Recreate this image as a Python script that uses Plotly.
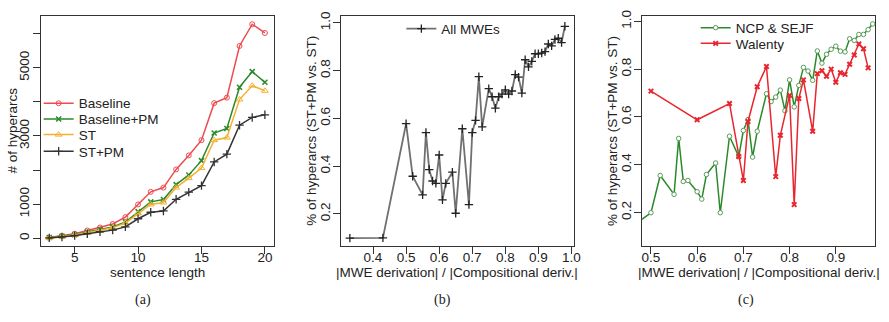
import plotly.graph_objects as go

# ---------------- Panel (a) data ----------------
sent_len = list(range(3, 21))
baseline = [20, 67, 133, 228, 314, 419, 619, 990, 1361, 1485, 2018, 2428, 2875, 3960, 4122, 5636, 6274, 6017]
baseline_pm = [20, 57, 105, 181, 257, 333, 476, 781, 1066, 1133, 1571, 1856, 2275, 3084, 3218, 4427, 4884, 4570]
st = [10, 48, 95, 162, 228, 305, 447, 724, 990, 1047, 1485, 1761, 2056, 2875, 2951, 4065, 4474, 4322]
st_pm = [10, 38, 76, 133, 190, 238, 333, 571, 762, 800, 1142, 1352, 1542, 2237, 2466, 3313, 3541, 3618]
a_yticks = [0, 1000, 2000, 3000, 4000, 5000, 6000]
a_yticklabels = ["0", "1000", "", "3000", "", "5000", ""]
a_xticks = [5, 10, 15, 20]

# ---------------- Panel (b) data ----------------
b_x = [0.33, 0.43, 0.50, 0.52, 0.55, 0.56, 0.57, 0.58, 0.59, 0.60, 0.61, 0.62, 0.64, 0.65,
       0.67, 0.69, 0.70, 0.71, 0.72, 0.73, 0.75, 0.76, 0.77, 0.78, 0.79, 0.80, 0.81, 0.82,
       0.83, 0.84, 0.85, 0.86, 0.87, 0.88, 0.89, 0.90, 0.91, 0.92, 0.93, 0.94, 0.95, 0.96,
       0.97, 0.98]
b_y = [0.099, 0.100, 0.578, 0.358, 0.280, 0.541, 0.386, 0.338, 0.328, 0.447, 0.259, 0.328, 0.375, 0.203,
       0.557, 0.239, 0.541, 0.592, 0.775, 0.565, 0.725, 0.691, 0.643, 0.691, 0.702, 0.720, 0.702, 0.715,
       0.784, 0.773, 0.706, 0.846, 0.816, 0.839, 0.871, 0.871, 0.874, 0.880, 0.912, 0.904, 0.931, 0.936,
       0.918, 0.986]
bc_yticks = [0.2, 0.4, 0.6, 0.8, 1.0]
b_xticks = [0.4, 0.5, 0.6, 0.7, 0.8, 0.9, 1.0]

# ---------------- Panel (c) data ----------------
ncp_x = [0.33, 0.43, 0.50, 0.52, 0.55, 0.56, 0.57, 0.58, 0.60, 0.61, 0.62, 0.64, 0.65, 0.67, 0.69,
         0.70, 0.71, 0.72, 0.73, 0.75, 0.76, 0.77, 0.78, 0.79, 0.80, 0.81, 0.82, 0.83, 0.84, 0.85,
         0.86, 0.87, 0.88, 0.89, 0.90, 0.91, 0.92, 0.93, 0.94, 0.95, 0.96, 0.97, 0.98]
ncp_y = [0.100, 0.100, 0.199, 0.355, 0.276, 0.510, 0.330, 0.334, 0.287, 0.256, 0.359, 0.407, 0.199, 0.519, 0.434,
         0.543, 0.589, 0.432, 0.540, 0.697, 0.664, 0.683, 0.712, 0.626, 0.755, 0.642, 0.732, 0.807, 0.792, 0.753,
         0.876, 0.825, 0.862, 0.883, 0.896, 0.875, 0.872, 0.927, 0.920, 0.945, 0.945, 0.965, 0.989]
wal_x = [0.50, 0.60, 0.67, 0.69, 0.70, 0.71, 0.73, 0.75, 0.77, 0.78, 0.80, 0.81, 0.82, 0.83, 0.85,
         0.86, 0.87, 0.88, 0.89, 0.90, 0.91, 0.92, 0.93, 0.94, 0.95, 0.96, 0.97]
wal_y = [0.708, 0.588, 0.656, 0.434, 0.334, 0.581, 0.726, 0.811, 0.350, 0.523, 0.690, 0.233, 0.677, 0.755, 0.540,
         0.781, 0.793, 0.770, 0.800, 0.745, 0.785, 0.778, 0.820, 0.859, 0.905, 0.885, 0.805]
c_xticks = [0.5, 0.6, 0.7, 0.8, 0.9]

captions = ["(a)", "(b)", "(c)"]
a_xtitle = "sentence length"
a_ytitle = "# of hyperarcs"
bc_xtitle = "|MWE derivation| / |Compositional deriv.|"
bc_ytitle = "% of hyperarcs (ST+PM vs. ST)"

RED = "#ee4b50"
GREEN = "#2a8a2a"
ORANGE = "#f5b030"
DARK = "#333333"
FONT = "Liberation Sans"
FS = 13.5
TXT = "#222222"

fig = go.Figure()

# Panel a
fig.add_trace(go.Scatter(x=sent_len, y=baseline, name="Baseline", mode="lines+markers", showlegend=True,
                         line=dict(color=RED, width=1.5),
                         marker=dict(symbol="circle-open", size=5, color=RED, line=dict(width=1)),
                         xaxis="x", yaxis="y", legend="legend"))
fig.add_trace(go.Scatter(x=sent_len, y=baseline_pm, name="Baseline+PM", mode="lines+markers", showlegend=True,
                         line=dict(color=GREEN, width=1.5),
                         marker=dict(symbol="x-thin", size=5, color=GREEN, line=dict(width=1.5, color=GREEN)),
                         xaxis="x", yaxis="y", legend="legend4"))
fig.add_trace(go.Scatter(x=sent_len, y=st, name="ST", mode="lines+markers", showlegend=True,
                         line=dict(color=ORANGE, width=1.5),
                         marker=dict(symbol="triangle-up-open", size=6, color=ORANGE, line=dict(width=1)),
                         xaxis="x", yaxis="y", legend="legend5"))
fig.add_trace(go.Scatter(x=sent_len, y=st_pm, name="ST+PM", mode="lines+markers", showlegend=True,
                         line=dict(color=DARK, width=1.5),
                         marker=dict(symbol="cross-thin", size=6, color=DARK, line=dict(width=1.3, color=DARK)),
                         xaxis="x", yaxis="y", legend="legend6"))

# Panel b
fig.add_trace(go.Scatter(x=b_x, y=b_y, name="All MWEs", mode="lines+markers", showlegend=True,
                         line=dict(color="#707070", width=1.8),
                         marker=dict(symbol="cross-thin", size=6, color="#222222", line=dict(width=1.3, color="#222222")),
                         xaxis="x2", yaxis="y2", legend="legend2"))

# Panel c
fig.add_trace(go.Scatter(x=ncp_x, y=ncp_y, name="NCP & SEJF", mode="lines+markers", showlegend=True,
                         line=dict(color=GREEN, width=1.5),
                         marker=dict(symbol="circle", size=4.5, color="white", line=dict(width=1, color="#5a9a5a")),
                         xaxis="x3", yaxis="y3", legend="legend3"))
fig.add_trace(go.Scatter(x=wal_x, y=wal_y, name="Walenty", mode="lines+markers", showlegend=True,
                         line=dict(color="#e8262e", width=1.5),
                         marker=dict(symbol="x-thin", size=4.5, color="#e8262e", line=dict(width=2, color="#e8262e")),
                         xaxis="x3", yaxis="y3", legend="legend7"))

W, H = 889, 322
ydom = [1 - 245 / H, 1 - 10 / H]
common_axis = dict(showline=True, mirror=True, linecolor="#333333", linewidth=1,
                   ticks="outside", ticklen=7, tickcolor="#333333", showgrid=False, zeroline=False,
                   tickfont=dict(family=FONT, size=FS, color=TXT))
yextra = dict(tickangle=-90, ticklabelstandoff=-2)
xextra = dict(ticklabelstandoff=-9)


def leg(xpx, ycenter):
    return dict(x=xpx / W, y=1 - (ycenter - 19.5) / H, xanchor="left", yanchor="top",
                bgcolor="rgba(0,0,0,0)", font=dict(family=FONT, size=FS, color=TXT))


fig.update_layout(
    width=W, height=H, margin=dict(l=0, r=0, t=0, b=0), showlegend=True,
    paper_bgcolor="white", plot_bgcolor="white",
    font=dict(family=FONT, size=FS, color=TXT),
    xaxis=dict(domain=[40 / W, 275 / W], range=[2.32, 20.68], tickvals=a_xticks, anchor="y",
               **xextra, **common_axis),
    yaxis=dict(domain=ydom, range=[-240, 6520], tickvals=a_yticks, ticktext=a_yticklabels,
               anchor="x", **yextra, **common_axis),
    xaxis2=dict(domain=[343 / W, 578 / W], range=[0.303, 1.007], tickvals=b_xticks,
                ticktext=[f"{v:.1f}" for v in b_xticks], anchor="y2", **xextra, **common_axis),
    yaxis2=dict(domain=ydom, range=[0.064, 1.03], tickvals=bc_yticks, ticktext=[f"{v:.1f}" for v in bc_yticks],
                anchor="x2", **yextra, **common_axis),
    xaxis3=dict(domain=[647 / W, 882 / W], range=[0.481, 0.985], tickvals=c_xticks,
                ticktext=[f"{v:.1f}" for v in c_xticks], anchor="y3", **xextra, **common_axis),
    yaxis3=dict(domain=ydom, range=[0.058, 1.023], tickvals=bc_yticks, ticktext=[f"{v:.1f}" for v in bc_yticks],
                anchor="x3", **yextra, **common_axis),
    legend=leg(38, 103),
    legend4=leg(38, 119),
    legend5=leg(38, 135),
    legend6=leg(38, 152),
    legend2=leg(404, 27),
    legend3=leg(701, 26),
    legend7=leg(701, 42),
)

# axis titles
titles = [
    (158, 272, a_xtitle, 0), (12, 127, a_ytitle, -90),
    (460.5, 272, bc_xtitle, 0), (313, 127, bc_ytitle, -90),
    (764.5, 272, bc_xtitle, 0), (617, 127, bc_ytitle, -90),
]
for tx, ty, t, ang in titles:
    fig.add_annotation(x=tx / W, y=1 - ty / H, xref="paper", yref="paper", text=t, showarrow=False,
                       textangle=ang, font=dict(family=FONT, size=FS, color=TXT),
                       xanchor="center", yanchor="middle")

for cx, cap in zip([143, 446, 752], captions):
    fig.add_annotation(x=cx / W, y=1 - 300 / H, xref="paper", yref="paper", text=cap, showarrow=False,
                       font=dict(family="Liberation Serif", size=14, color=TXT),
                       xanchor="center", yanchor="middle")

fig.write_html("out.html")
